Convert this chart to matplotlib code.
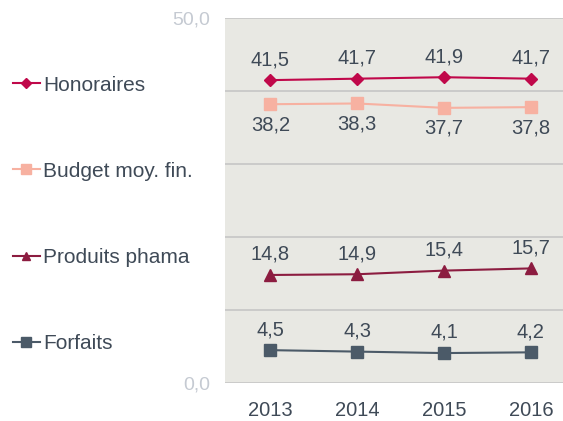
import matplotlib.pyplot as plt
from matplotlib.lines import Line2D

plt.rcParams['font.family'] = ['Liberation Sans', 'DejaVu Sans']

annees = ['2013', '2014', '2015', '2016']
honoraires = [41.5, 41.7, 41.9, 41.7]
budget = [38.2, 38.3, 37.7, 37.8]
produits = [14.8, 14.9, 15.4, 15.7]
forfaits = [4.5, 4.3, 4.1, 4.2]

noms = ['Honoraires', 'Budget moy. fin.', 'Produits phama', 'Forfaits']
couleurs = ['#c0084a', '#f7b1a1', '#8c1c40', '#4b5a68']
marqueurs = ['D', 's', '^', 's']
tailles = [6, 9, 8, 9]
# position du libelle: au-dessus (1) ou en dessous (-1)
positions = [1, -1, 1, 1]

texte = '#3f4a57'

fig = plt.figure(figsize=(5.63, 4.21), dpi=100)
ax = fig.add_axes([0.40, 0.0903, 0.60, 0.8667])
ax.set_facecolor('#e8e8e3')

x = list(range(len(annees)))
series = [honoraires, budget, produits, forfaits]
for y, nom, c, m, t, p in zip(series, noms, couleurs, marqueurs, tailles, positions):
    ax.plot(x, y, color=c, marker=m, markersize=t, linewidth=1.5, label=nom)
    for xi, yi in zip(x, y):
        lab = f'{yi:.1f}'.replace('.', ',')
        ax.annotate(lab, (xi, yi), xytext=(0, 8 * p), textcoords='offset points',
                    ha='center', va='bottom' if p > 0 else 'top',
                    fontsize=14.5, color=texte)

ax.set_ylim(0, 50)
ax.set_xlim(-0.52, 3.37)
ax.set_yticks([0, 10, 20, 30, 40, 50])
ax.set_yticklabels(['0,0', '', '', '', '', '50,0'], fontsize=14, color='#c5cad2')
ax.set_xticks(x)
ax.set_xticklabels(annees, fontsize=14.5, color=texte)
ax.tick_params(axis='y', length=0, pad=11)
ax.tick_params(axis='x', length=0, pad=13)
ax.grid(axis='y', color='#c6c6c6', linewidth=1.2)
ax.set_axisbelow(True)
for s in ax.spines.values():
    s.set_visible(False)

handles = [Line2D([], [], color=c, marker=m, markersize=t * 0.8, linewidth=1.5)
           for c, m, t in zip(couleurs, marqueurs, tailles)]
leg = fig.legend(handles, noms, loc='upper left', bbox_to_anchor=(0.008, 0.84),
                 frameon=False, fontsize=15, labelspacing=3.22, handlelength=1.3,
                 handletextpad=0.15, borderaxespad=0)
for t in leg.get_texts():
    t.set_color(texte)

fig.savefig('out.png', dpi=100)
